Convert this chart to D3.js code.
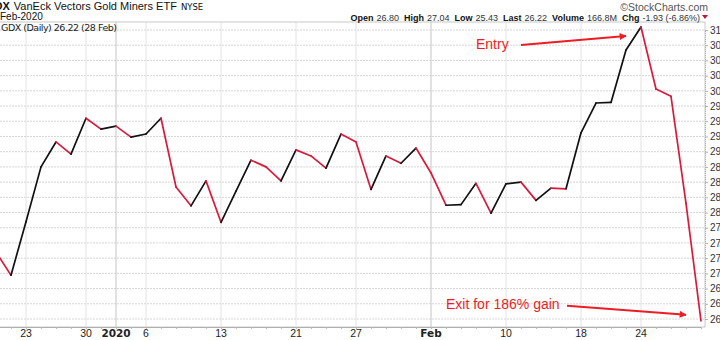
<!DOCTYPE html>
<html>
<head>
<meta charset="utf-8">
<script src="https://cdn.jsdelivr.net/npm/d3@7"></script>
<style>
  html, body { margin: 0; padding: 0; background: #fff; }
  svg { display: block; font-family: "Liberation Sans", Arial, sans-serif; }
</style>
</head>
<body>
<svg id="chart" width="720" height="340"></svg>
<script>
// ---- data ----
const dates = [
  "2019-12-19","2019-12-20","2019-12-23","2019-12-24","2019-12-26","2019-12-27","2019-12-30","2019-12-31",
  "2020-01-02","2020-01-03","2020-01-06","2020-01-07","2020-01-08","2020-01-09","2020-01-10",
  "2020-01-13","2020-01-14","2020-01-15","2020-01-16","2020-01-17",
  "2020-01-21","2020-01-22","2020-01-23","2020-01-24",
  "2020-01-27","2020-01-28","2020-01-29","2020-01-30","2020-01-31",
  "2020-02-03","2020-02-04","2020-02-05","2020-02-06","2020-02-07",
  "2020-02-10","2020-02-11","2020-02-12","2020-02-13","2020-02-14",
  "2020-02-18","2020-02-19","2020-02-20","2020-02-21",
  "2020-02-24","2020-02-25","2020-02-26","2020-02-27","2020-02-28"
];
const closes = [
  27.35, 26.97, 27.85, 28.75, 29.16, 28.96, 29.55, 29.37,
  29.42, 29.24, 29.29, 29.55, 28.42, 28.11, 28.52,
  27.84, 28.35, 28.86, 28.75, 28.52,
  29.03, 28.93, 28.73, 29.29,
  29.16, 28.38, 28.93, 28.81, 29.06,
  28.65, 28.12, 28.13, 28.48, 27.99,
  28.47, 28.50, 28.20, 28.40, 28.39,
  29.31, 29.80, 29.81, 30.67,
  31.05, 30.03, 29.91, 28.15, 26.22
];
const xTickDates = ["2019-12-23","2019-12-30","2020-01-02","2020-01-06","2020-01-13","2020-01-21","2020-01-27","2020-02-03","2020-02-10","2020-02-18","2020-02-24"];
const xTickLabels = ["23","30","2020","6","13","21","27","Feb","10","18","24"];
const xTickBold = [false,false,true,false,false,false,false,true,false,false,false];
const yTicks = d3.range(26.25, 31.001, 0.25);

const titleSymbol = "GDX";
const titleName = "VanEck Vectors Gold Miners ETF";
const titleExchange = "NYSE";
const periodLabel = "Feb-2020";
const seriesLabel = "GDX (Daily) 26.22 (28 Feb)";
const quoteFields = [["Open","26.80"],["High","27.04"],["Low","25.43"],["Last","26.22"],["Volume","166.8M"],["Chg","-1.93 (-6.86%)"]];
const annotations = [
  {text: "Entry", date: "2020-02-24", value: 31.05},
  {text: "Exit for 186% gain", date: "2020-02-28", value: 26.22}
];

// ---- layout ----
const svg = d3.select("#chart");
const plot = {left: 0, right: 705, top: 22, bottom: 327};
const upColor = "#111111", downColor = "#d81b3c", annColor = "#ee1c24";

const x = d3.scaleLinear().domain([0, dates.length - 1]).range([-4, 701]);
const y = d3.scaleLinear().domain([26.25, 31]).range([319, 30]);
const idx = d => dates.indexOf(d);

const defs = svg.append("defs");
defs.append("clipPath").attr("id","clip").append("rect")
  .attr("x", plot.left).attr("y", plot.top).attr("width", plot.right - plot.left).attr("height", plot.bottom - plot.top);
defs.append("marker").attr("id","arrow").attr("viewBox","0 0 10 10").attr("refX",9).attr("refY",5)
  .attr("markerWidth",8).attr("markerHeight",7).attr("markerUnits","userSpaceOnUse").attr("orient","auto")
  .append("path").attr("d","M0,0 L10,5 L0,10 z").attr("fill", annColor);

// frame
svg.append("rect").attr("x", plot.left - 1).attr("y", plot.top).attr("width", plot.right - plot.left + 1)
  .attr("height", plot.bottom - plot.top).attr("fill","#fff").attr("stroke","#c8c8c8");

// horizontal grid
svg.append("g").selectAll("line").data(yTicks).join("line")
  .attr("x1", plot.left).attr("x2", plot.right)
  .attr("y1", d => y(d)).attr("y2", d => y(d))
  .attr("stroke", "#d6d6d6").attr("stroke-dasharray", "2,1");

// vertical grid
svg.append("g").selectAll("line").data(xTickDates).join("line")
  .attr("x1", d => x(idx(d))).attr("x2", d => x(idx(d)))
  .attr("y1", plot.top).attr("y2", plot.bottom)
  .attr("stroke", (d,i) => xTickBold[i] ? "#c4c4c4" : "#e2e2e2").attr("stroke-width", 1);

// right axis
const yAxis = d3.axisRight(y).tickValues(yTicks).tickSize(3).tickPadding(2).tickFormat(d => Math.floor(d + 1e-9));
const ya = svg.append("g").attr("transform", `translate(${plot.right},0)`).call(yAxis);
ya.select(".domain").attr("stroke","#b0b0b0").attr("stroke-dasharray","1,1");
ya.selectAll(".tick line").attr("stroke","#b0b0b0");
ya.selectAll("text").attr("font-size", 10).attr("fill","#333").attr("font-family","Liberation Sans, Arial, sans-serif");

// bottom axis
const xAxis = d3.axisBottom(x).tickValues(d3.range(dates.length)).tickSize(2).tickFormat("");
const xa = svg.append("g").attr("transform", `translate(0,${plot.bottom})`).call(xAxis);
xa.select(".domain").attr("stroke","#b0b0b0");
xa.selectAll(".tick line").attr("stroke","#b8b8b8");
svg.append("g").selectAll("text").data(xTickDates).join("text")
  .attr("x", d => x(idx(d))).attr("y", 337)
  .attr("text-anchor","middle").attr("font-size", 10.5).attr("fill","#222")
  .attr("font-weight", (d,i) => xTickBold[i] ? "bold" : "normal")
  .attr("font-family", (d,i) => xTickBold[i] ? "DejaVu Sans, Verdana, sans-serif" : "Liberation Sans, Arial, sans-serif")
  .text((d,i) => xTickLabels[i]);

// price line segments colored by direction
const segs = closes.slice(1).map((v,i) => ({i0: i, i1: i + 1, down: v < closes[i]}));
svg.append("g").attr("clip-path","url(#clip)").selectAll("line").data(segs).join("line")
  .attr("x1", d => x(d.i0)).attr("y1", d => y(closes[d.i0]))
  .attr("x2", d => x(d.i1)).attr("y2", d => y(closes[d.i1]))
  .attr("stroke", d => d.down ? downColor : upColor)
  .attr("stroke-width", 1.7).attr("stroke-linecap","round");

// series label inside plot
svg.append("text").attr("x", 1).attr("y", 31).attr("font-size", 9.5).attr("fill","#222")
  .attr("font-family","DejaVu Sans, Verdana, sans-serif").attr("textLength", 116).text(seriesLabel);

// header
const h1 = svg.append("text").attr("x", -14).attr("y", 10).attr("font-size", 11).attr("fill","#111");
h1.append("tspan").attr("font-weight","bold").text(titleSymbol);
h1.append("tspan").attr("dx", 4).text(titleName);
h1.append("tspan").attr("dx", 4).attr("font-size", 8.5).attr("font-family","DejaVu Sans, Verdana, sans-serif").text(titleExchange);
svg.append("text").attr("x", 0).attr("y", 20).attr("font-size", 10).attr("fill","#111").text(periodLabel);

svg.append("text").attr("x", 708).attr("y", 11).attr("text-anchor","end").attr("font-size", 10.5).attr("fill","#555")
  .text("\u00A9StockCharts.com");
const q = svg.append("text").attr("x", 700).attr("y", 21).attr("text-anchor","end").attr("font-size", 9).attr("fill","#111");
quoteFields.forEach(([k,v], i) => {
  q.append("tspan").attr("font-weight","bold").attr("dx", i ? 5 : 0).text(k);
  q.append("tspan").attr("dx", 3).attr("fill","#333").text(v);
});
svg.append("path").attr("d","M702,15 L708,15 L705,19 Z").attr("fill","#c0143c");

// annotations
const entry = annotations[0], exit = annotations[1];
const ex = x(idx(entry.date)), ey = y(entry.value);
svg.append("text").attr("x", ex - 165).attr("y", ey + 22).attr("font-size", 14).attr("fill", annColor).text(entry.text);
svg.append("line").attr("x1", ex - 120).attr("y1", ey + 18).attr("x2", ex - 15).attr("y2", ey + 9)
  .attr("stroke", annColor).attr("stroke-width", 2).attr("marker-end","url(#arrow)");
const xx = x(idx(exit.date)), xy = y(exit.value);
svg.append("text").attr("x", xx - 255).attr("y", xy - 12).attr("font-size", 14).attr("fill", annColor).text(exit.text);
svg.append("line").attr("x1", xx - 134).attr("y1", xy - 15).attr("x2", xx - 15).attr("y2", xy - 6)
  .attr("stroke", annColor).attr("stroke-width", 2).attr("marker-end","url(#arrow)");
</script>
</body>
</html>
